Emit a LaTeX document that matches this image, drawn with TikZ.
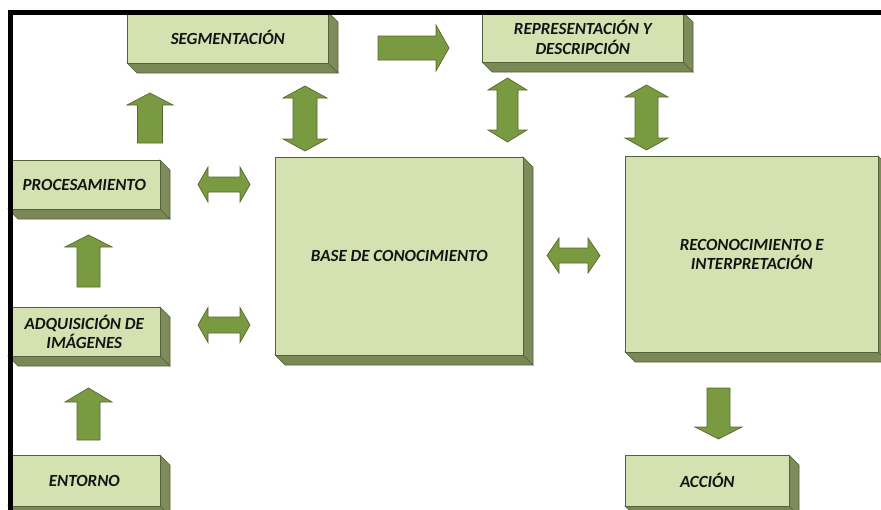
\documentclass[tikz,border=0pt]{standalone}
\usepackage{fontspec}
\setmainfont{Carlito}
\definecolor{frontc}{HTML}{D4E2B2}
\definecolor{sidec}{HTML}{7E8C5C}
\definecolor{bottomc}{HTML}{7A8856}
\definecolor{edgec}{HTML}{55613A}
\definecolor{arrc}{HTML}{7A9A42}
\definecolor{arredge}{HTML}{56692E}
\tikzset{
  front/.style={draw=edgec, line width=0.6pt, fill=frontc, inner sep=0pt, align=center,
    font=\fontsize{17}{19.5}\selectfont\bfseries\itshape, text=black!92},
  sideface/.style={draw=edgec, line width=0.6pt, fill=sidec},
  bottomface/.style={draw=edgec, line width=0.6pt, fill=bottomc},
  blk/.style={draw=arredge, line width=0.7pt, fill=arrc, line join=miter},
}
% 3D box: name, x1, y1, x2, y2, text
\newcommand{\tdbox}[6]{%
  \path[sideface] (#4,#3) -- ({#4+10},{#3+10}) -- ({#4+10},{#5+10}) -- (#4,#5) -- cycle;
  \path[bottomface] (#2,#5) -- (#4,#5) -- ({#4+10},{#5+10}) -- ({#2+10},{#5+10}) -- cycle;
  \node[front, anchor=north west, minimum width={#4pt-#2pt}, minimum height={#5pt-#3pt}] (#1) at (#2,#3) {#6};
}
% up arrow: cx, tip, bottom, shaft half, head half, head length
\newcommand{\upblk}[6]{%
  \path[blk] (#1,#2) -- ({#1+#5},{#2+#6}) -- ({#1+#4},{#2+#6}) -- ({#1+#4},#3) -- ({#1-#4},#3) -- ({#1-#4},{#2+#6}) -- ({#1-#5},{#2+#6}) -- cycle;}
% down arrow: cx, top, tip, shaft half, head half, head length
\newcommand{\downblk}[6]{%
  \path[blk] (#1,#3) -- ({#1+#5},{#3-#6}) -- ({#1+#4},{#3-#6}) -- ({#1+#4},#2) -- ({#1-#4},#2) -- ({#1-#4},{#3-#6}) -- ({#1-#5},{#3-#6}) -- cycle;}
% right arrow: cy, left, tip, shaft half, head half, head length
\newcommand{\rightblk}[6]{%
  \path[blk] (#3,#1) -- ({#3-#6},{#1-#5}) -- ({#3-#6},{#1-#4}) -- (#2,{#1-#4}) -- (#2,{#1+#4}) -- ({#3-#6},{#1+#4}) -- ({#3-#6},{#1+#5}) -- cycle;}
% vertical double arrow: cx, top, bottom, shaft half, head half, head length
\newcommand{\vdblk}[6]{%
  \path[blk] (#1,#2) -- ({#1+#5},{#2+#6}) -- ({#1+#4},{#2+#6}) -- ({#1+#4},{#3-#6}) -- ({#1+#5},{#3-#6}) -- (#1,#3)
    -- ({#1-#5},{#3-#6}) -- ({#1-#4},{#3-#6}) -- ({#1-#4},{#2+#6}) -- ({#1-#5},{#2+#6}) -- cycle;}
% horizontal double arrow: cy, left, right, shaft half, head half, head length
\newcommand{\hdblk}[6]{%
  \path[blk] (#2,#1) -- ({#2+#6},{#1-#5}) -- ({#2+#6},{#1-#4}) -- ({#3-#6},{#1-#4}) -- ({#3-#6},{#1-#5}) -- (#3,#1)
    -- ({#3-#6},{#1+#5}) -- ({#3-#6},{#1+#4}) -- ({#2+#6},{#1+#4}) -- ({#2+#6},{#1+#5}) -- cycle;}
\begin{document}
\begin{tikzpicture}[x=1pt,y=-1pt]
\useasboundingbox (0,0) rectangle (881,509);
\clip (0,0) rectangle (881,509);
\fill[white] (0,0) rectangle (881,509);

% boxes
\tdbox{seg}{127}{12}{328}{63}{SEGMENTACIÓN}
\tdbox{rep}{482}{12}{683}{62}{REPRESENTACIÓN Y\\DESCRIPCIÓN}
\tdbox{proc}{8}{160}{160}{209}{PROCESAMIENTO}
\tdbox{adq}{8}{307}{160}{356}{ADQUISICIÓN DE\\IMÁGENES}
\tdbox{ent}{8}{455}{160}{506}{ENTORNO}
\tdbox{base}{275}{157}{523}{355}{BASE DE CONOCIMIENTO}
\tdbox{rec}{625}{156}{878}{352}{RECONOCIMIENTO E\\INTERPRETACIÓN}
\tdbox{acc}{625}{455}{789}{506}{ACCIÓN}

% block arrows
\upblk{88.5}{388}{440}{11.5}{23.5}{14}
\upblk{88.5}{235}{287}{11.5}{23.5}{12}
\upblk{150}{93}{143}{12.5}{23}{12}
\rightblk{48}{378}{449}{12}{23}{13}
\vdblk{305}{86}{151}{12}{22}{12}
\vdblk{507.5}{78}{142}{10.5}{19.5}{12}
\vdblk{646.5}{85}{150}{11.5}{21.5}{12}
\hdblk{184.5}{198}{250}{7.5}{17.5}{10}
\hdblk{325}{198}{250}{8}{17.5}{10}
\hdblk{255.5}{547}{600}{7.5}{17.5}{12}
\downblk{718.5}{388}{439}{11.5}{23.5}{12}

% frame
\draw[line width=5pt, black] (8,12.5) -- (890,12.5);
\draw[line width=5pt, black] (10.5,10) -- (10.5,520);
\end{tikzpicture}
\end{document}
